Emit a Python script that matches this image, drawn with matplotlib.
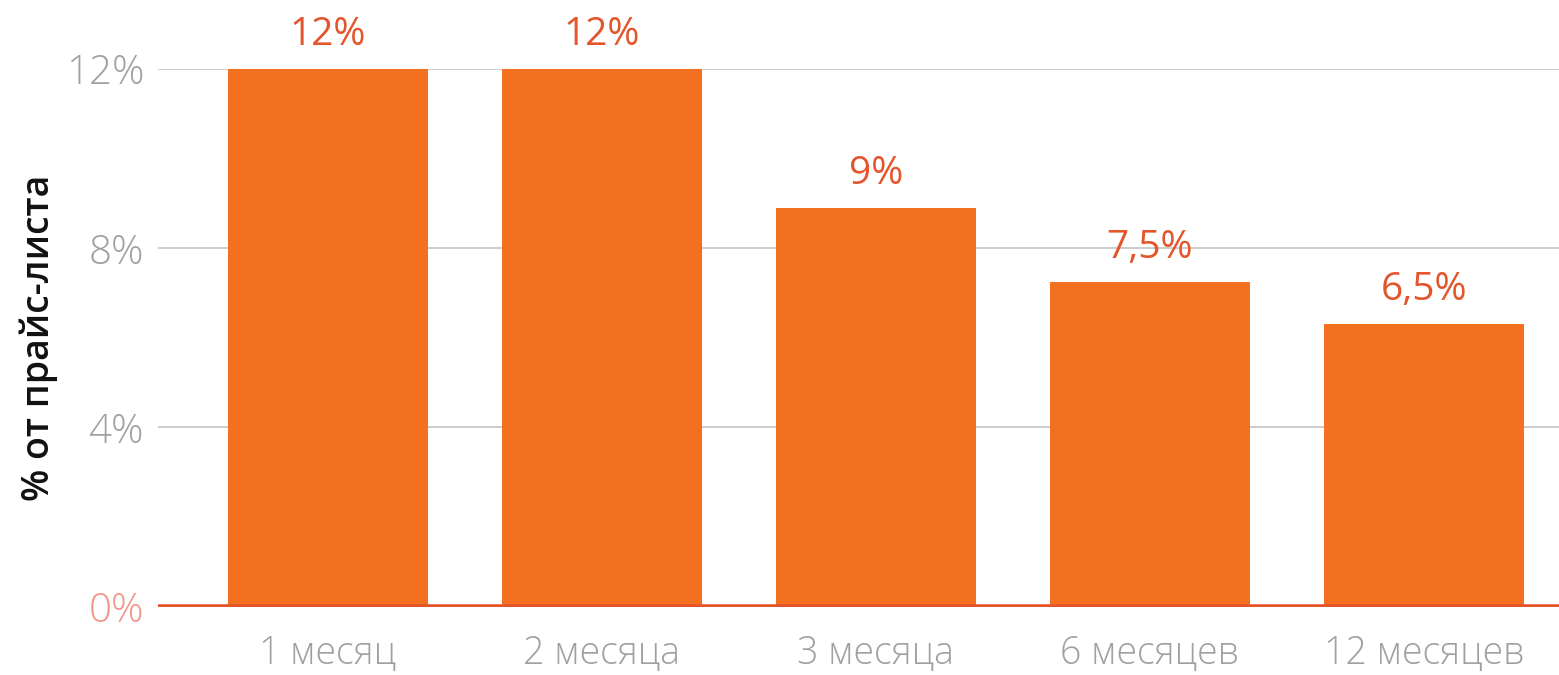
import matplotlib
matplotlib.use("Agg")
from matplotlib import pyplot as plt

# chart data
periods = ["1 месяц", "2 месяца", "3 месяца", "6 месяцев", "12 месяцев"]
discounts = [12.0, 12.0, 8.9, 7.25, 6.3]
value_labels = ["12%", "12%", "9%", "7,5%", "6,5%"]
y_ticks = [0, 4, 8, 12]
y_tick_labels = ["0%", "4%", "8%", "12%"]

bar_color = "#F37021"
label_color = "#E5552C"
grey = "#A0A0A0"

plt.rcParams['font.family'] = ['Open Sans', 'DejaVu Sans']

fig = plt.figure(figsize=(15.59, 6.75), dpi=100)
ax = fig.add_axes([158 / 1559, 1 - 606.7 / 675, 1401 / 1559, (606.7 - 69) / 675])

x = list(range(len(periods)))
ax.bar(x, discounts, width=0.73, color=bar_color, zorder=2)

for xi, v, lab in zip(x, discounts, value_labels):
    ax.annotate(lab, (xi, v), xytext=(0, 11), textcoords="offset points",
                ha="center", va="bottom", fontsize=28, color=label_color,
                annotation_clip=False)

ax.set_xlim(-0.620, 4.493)
ax.set_ylim(0, 12)

ax.set_yticks(y_ticks)
ax.set_yticklabels(y_tick_labels, fontsize=29, color=grey, fontweight="light")
ax.get_yticklabels()[0].set_color("#F0958A")
ax.set_xticks(x)
ax.set_xticklabels(periods, fontsize=27, color=grey, fontweight="light")
ax.tick_params(axis="y", length=0, pad=10)
ax.tick_params(axis="x", length=0, pad=20)

ax.grid(axis="y", color="#C8C8C8", linewidth=1.3, zorder=1)
ax.axhline(0, color="#E8542A", linewidth=4, zorder=3)

for s in ax.spines.values():
    s.set_visible(False)

ax.set_ylabel("% от прайс-листа", fontsize=27, color="#111111", fontweight="semibold")
ax.yaxis.set_label_coords(-100 / 1401, 0.5)

fig.savefig("out.png", dpi=100)
